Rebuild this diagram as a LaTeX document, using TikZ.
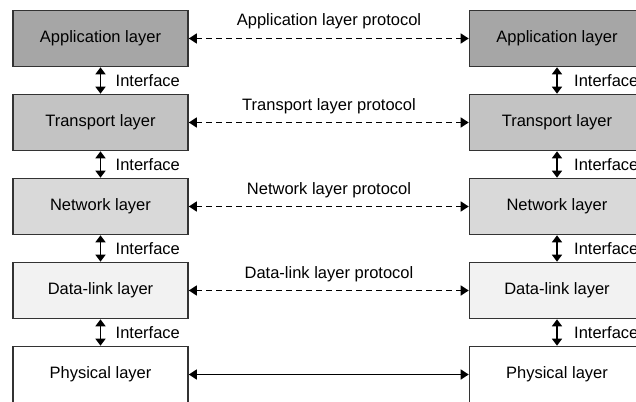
\documentclass[tikz,border=0pt]{standalone}
\usepackage{fontspec}
\setmainfont{Liberation Sans}
\usetikzlibrary{arrows.meta,calc}
\definecolor{appc}{HTML}{A6A6A6}
\definecolor{trc}{HTML}{C3C3C3}
\definecolor{netc}{HTML}{D9D9D9}
\definecolor{dlc}{HTML}{F2F2F2}
\definecolor{edge}{HTML}{333333}
\begin{document}
\begin{tikzpicture}[x=1pt,y=-1pt,
  layerbox/.style={draw=edge,line width=1.6pt,minimum width=175pt,minimum height=56pt,inner sep=0pt,
    font=\fontsize{16.5}{18}\selectfont},
  proto/.style={line width=1.4pt,dashed,dash pattern=on 6pt off 4pt,{Triangle[length=8pt,width=10pt]}-{Triangle[length=8pt,width=10pt]}},
  solidproto/.style={line width=1.4pt,{Triangle[length=8pt,width=10pt]}-{Triangle[length=8pt,width=10pt]}},
  iface/.style={line width=1.4pt,{Triangle[length=7pt,width=10pt]}-{Triangle[length=7pt,width=10pt]}},
  lbl/.style={font=\fontsize{16.5}{18}\selectfont,inner sep=0pt}]
\useasboundingbox (0,0) rectangle (636,401);
\clip (0,0) rectangle (636,401);
% left stack
\node[layerbox,fill=appc] (la) at (100.5,38.5) {Application layer};
\node[layerbox,fill=trc] (lt) at (100.5,122.5) {Transport layer};
\node[layerbox,fill=netc] (ln) at (100.5,206.5) {Network layer};
\node[layerbox,fill=dlc] (ld) at (100.5,290.5) {Data-link layer};
\node[layerbox,fill=white] (lp) at (100.5,374.5) {Physical layer};
% right stack
\node[layerbox,fill=appc] (ra) at (557,38.5) {Application layer};
\node[layerbox,fill=trc] (rt) at (557,122.5) {Transport layer};
\node[layerbox,fill=netc] (rn) at (557,206.5) {Network layer};
\node[layerbox,fill=dlc] (rd) at (557,290.5) {Data-link layer};
\node[layerbox,fill=white] (rp) at (557,374.5) {Physical layer};
% protocols
\draw[proto] (la.east) -- (ra.west);
\draw[proto] (lt.east) -- (rt.west);
\draw[proto] (ln.east) -- (rn.west);
\draw[proto] (ld.east) -- (rd.west);
\draw[solidproto] (lp.east) -- (rp.west);
\node[lbl] (pa) at (329,21) {Application layer protocol};
\node[lbl] (pt) at (329,106) {Transport layer protocol};
\node[lbl] (pn) at (329,190) {Network layer protocol};
\node[lbl] (pd) at (329,274) {Data-link layer protocol};
% interfaces
\foreach \a/\b/\n in {la/lt/1,lt/ln/2,ln/ld/3,ld/lp/4}{
  \draw[iface] (\a.south) -- (\b.north);
  \node[lbl,anchor=west] (il\n) at ($(\a.south)!0.5!(\b.north)+(15,0)$) {Interface};
}
\foreach \a/\b/\n in {ra/rt/1,rt/rn/2,rn/rd/3,rd/rp/4}{
  \draw[iface] (\a.south) -- (\b.north);
  \node[lbl,anchor=west] (ir\n) at ($(\a.south)!0.5!(\b.north)+(17,0)$) {Interface};
}
\end{tikzpicture}
\end{document}
